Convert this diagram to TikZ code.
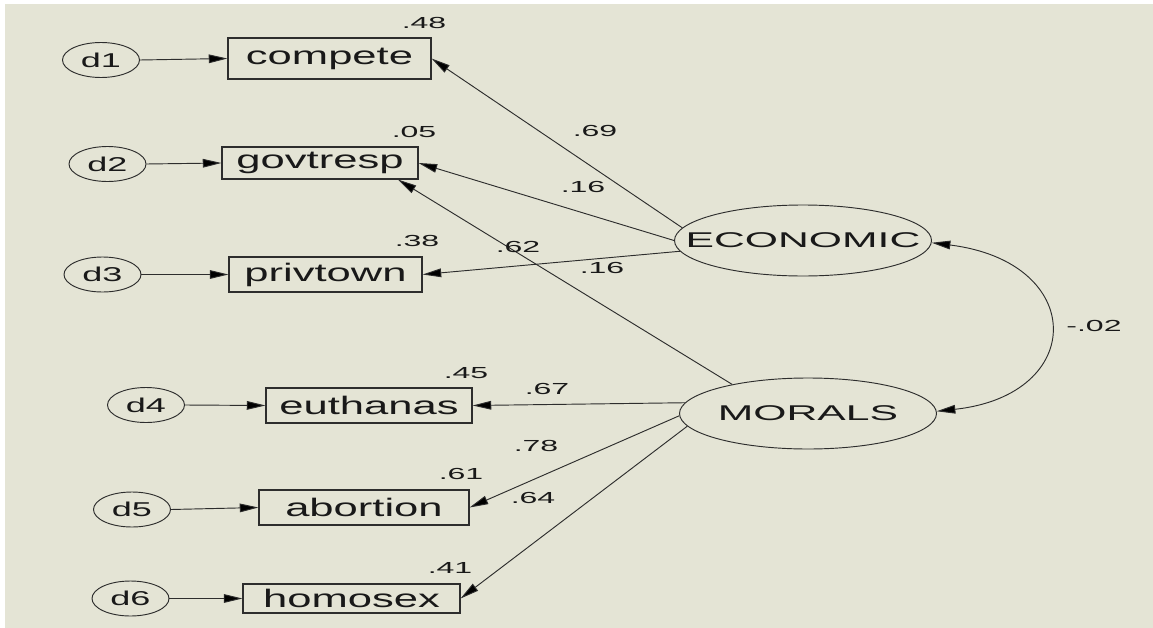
\documentclass[tikz,border=0pt]{standalone}
\usepackage{fontspec}
\setmainfont{Liberation Sans}
\usetikzlibrary{shapes.geometric,arrows.meta}
\definecolor{canvas}{RGB}{228,228,213}
\definecolor{ink}{RGB}{45,45,45}
% wide lettering of the path diagram
\newcommand{\widetext}[2]{\scalebox{#1}[1]{#2}}
% lettering that does not widen its node
\newcommand{\flattext}[2]{\makebox[0pt]{\scalebox{#1}[1]{#2}}}
\begin{document}
\begin{tikzpicture}[x=0.75pt,y=-0.75pt,
  obs/.style={draw=ink, line width=0.85pt, rectangle, inner sep=0pt,
    font=\fontsize{19}{22}\selectfont, text=black!90},
  err/.style={draw=ink, line width=0.7pt, ellipse, inner sep=0pt,
    minimum width=57.75pt, minimum height=26.25pt,
    font=\fontsize{15}{17}\selectfont, text=black!90},
  lat/.style={draw=ink, line width=0.7pt, ellipse, inner sep=0pt,
    minimum width=192.75pt, minimum height=53.25pt,
    font=\fontsize{16}{19}\selectfont, text=black!90},
  coef/.style={inner sep=0pt, font=\fontsize{12}{14}\selectfont, text=black!90},
  tip/.tip={Triangle[length=14pt,width=6.5pt,fill=black]},
  load/.style={draw=ink, line width=0.7pt, -tip},
  cov/.style={draw=ink, line width=0.7pt, tip-tip},
]
% canvas
\useasboundingbox (0,0) rectangle (1153,628);
\fill[white] (0,0) rectangle (1153,628);
\fill[canvas] (5,4) rectangle (1153,628);

% latent factors
\node[lat] (econ) at (803,240.5) {\flattext{2}{ECONOMIC}};
\node[lat] (mor) at (808,413.5) {\flattext{2}{MORALS}};

% observed indicators
\node[obs, minimum width=152.25pt, minimum height=30.75pt] (compete) at (329.5,58.5) {\widetext{1.72}{compete}};
\node[obs, minimum width=147pt, minimum height=24pt] (govtresp) at (320,163) {\widetext{1.72}{govtresp}};
\node[obs, minimum width=144.75pt, minimum height=26.25pt] (privtown) at (325.5,274.5) {\widetext{1.72}{privtown}};
\node[obs, minimum width=154.5pt, minimum height=26.25pt] (euthanas) at (369,405.5) {\widetext{1.72}{euthanas}};
\node[obs, minimum width=157.5pt, minimum height=26.25pt] (abortion) at (364,507.5) {\widetext{1.72}{abortion}};
\node[obs, minimum width=162.75pt, minimum height=21.75pt] (homosex) at (351.5,598.5) {\widetext{1.72}{homosex}};

% error terms
\node[err] (d1) at (101,60) {\flattext{1.8}{d1}};
\node[err] (d2) at (107.5,164) {\flattext{1.8}{d2}};
\node[err] (d3) at (102.5,274.5) {\flattext{1.8}{d3}};
\node[err] (d4) at (146,405) {\flattext{1.8}{d4}};
\node[err] (d5) at (132,509.5) {\flattext{1.8}{d5}};
\node[err] (d6) at (130.5,598.5) {\flattext{1.8}{d6}};

% error paths
\draw[load] (d1.east) -- (compete.west);
\draw[load] (d2.east) -- (govtresp.west);
\draw[load] (d3.east) -- (privtown.west);
\draw[load] (d4.east) -- (euthanas.west);
\draw[load] (d5.east) -- (abortion.west);
\draw[load] (d6.east) -- (homosex.west);

% factor loadings
\draw[load] (econ.174) -- (compete.east);
\draw[load] (econ.180) -- (govtresp.east);
\draw[load] (econ.185) -- (privtown.east);
\draw[load] (mor.159) -- (govtresp.-12.4);
\draw[load] (mor.175) -- (euthanas.east);
\draw[load] (mor.181) -- (abortion.east);
\draw[load] (mor.186) -- (homosex.east);

% factor covariance
\draw[cov] (econ.-1.5) .. controls (1087,262) and (1087,395) .. (mor.1);

% squared multiple correlations
\node[coef] (r1) at (424,23) {\widetext{2}{.48}};
\node[coef] (r2) at (414,132) {\widetext{2}{.05}};
\node[coef] (r3) at (417,241) {\widetext{2}{.38}};
\node[coef] (r4) at (466,373) {\widetext{2}{.45}};
\node[coef] (r5) at (461,474) {\widetext{2}{.61}};
\node[coef] (r6) at (450,568) {\widetext{2}{.41}};

% standardized weights
\node[coef] (w1) at (595,131) {\widetext{2}{.69}};
\node[coef] (w2) at (583,187) {\widetext{2}{.16}};
\node[coef] (w3) at (518,247) {\widetext{2}{.62}};
\node[coef] (w4) at (602,268) {\widetext{2}{.16}};
\node[coef] (w5) at (547,389) {\widetext{2}{.67}};
\node[coef] (w6) at (536,446) {\widetext{2}{.78}};
\node[coef] (w7) at (533,498) {\widetext{2}{.64}};
\node[coef] (cv) at (1094,326) {\widetext{2}{-.02}};
\end{tikzpicture}
\end{document}
